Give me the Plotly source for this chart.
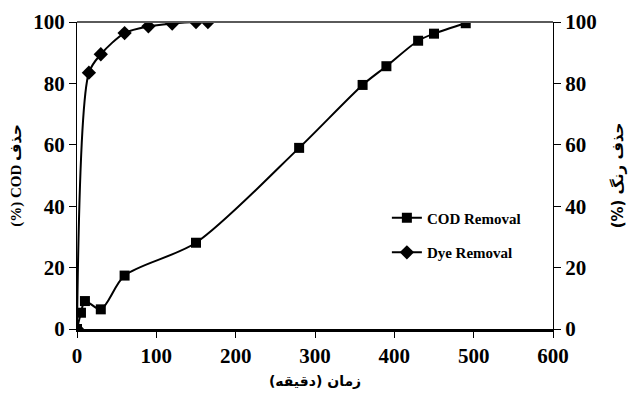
import plotly.graph_objects as go

time_cod = [0, 5, 10, 30, 60, 150, 280, 360, 390, 430, 450, 490]
cod_removal = [0, 5.3, 9.1, 6.4, 17.4, 28.1, 59, 79.5, 85.6, 93.9, 96.2, 99.6]

time_dye = [0, 15, 30, 60, 90, 120, 150, 165]
dye_removal = [0, 83.5, 89.5, 96.4, 98.6, 99.5, 100, 100]

x_ticks = [0, 100, 200, 300, 400, 500, 600]
y_ticks = [0, 20, 40, 60, 80, 100]

FONT = "Liberation Serif"
AFONT = "DejaVu Sans"

fig = go.Figure()
fig.add_trace(go.Scatter(
    x=time_cod, y=cod_removal, name="COD Removal", mode="lines+markers",
    line=dict(color="black", width=2, shape="spline", smoothing=0.8),
    marker=dict(symbol="square", size=10, color="black"),
    legendgroup="a", yaxis="y"))
fig.add_trace(go.Scatter(
    x=time_dye, y=dye_removal, name="Dye Removal", mode="lines+markers",
    line=dict(color="black", width=2, shape="spline", smoothing=0.8),
    marker=dict(symbol="diamond", size=11, color="black"),
    legendgroup="b", yaxis="y2"))

fig.add_shape(type="line", xref="paper", yref="paper", x0=0, x1=1, y0=1, y1=1,
              line=dict(color="#5a5a5a", width=2))

TICKF = dict(size=21, family=FONT, weight=700, color="black")

fig.update_layout(
    width=631, height=403,
    margin=dict(l=77, r=78, t=22, b=74, autoexpand=False),
    paper_bgcolor="white", plot_bgcolor="white",
    font=dict(family=FONT, color="black"),
    showlegend=True,
    legend=dict(x=0.651, y=0.415, xanchor="left", yanchor="top",
                bgcolor="rgba(0,0,0,0)",
                font=dict(size=15, family=FONT, weight=700),
                traceorder="grouped", tracegroupgap=12, itemwidth=30),
    xaxis=dict(range=[0, 600], tickvals=x_ticks, automargin=False,
               ticks="outside", ticklen=6, tickwidth=1, tickcolor="black",
               showline=True, linecolor="black", linewidth=2.5, showgrid=False,
               zeroline=False, tickfont=TICKF,
               title=dict(text="زمان (دقیقه)",
                          font=dict(size=14, family=AFONT, weight=700),
                          standoff=10)),
    yaxis=dict(range=[0, 100], tickvals=y_ticks, automargin=False,
               ticks="outside", ticklen=7,
               tickcolor="black", showline=True, linecolor="black", linewidth=1,
               showgrid=False, zeroline=False, tickfont=TICKF,
               title=dict(text="(%) COD حذف",
                          font=dict(size=15, family="Liberation Serif, DejaVu Sans", weight=700),
                          standoff=8)),
    yaxis2=dict(range=[0, 100], tickvals=y_ticks, automargin=False,
                ticks="outside", ticklen=7,
                tickcolor="black", overlaying="y", side="right",
                showline=True, linecolor="black", linewidth=1,
                showgrid=False, zeroline=False, tickfont=TICKF,
                title=dict(text="(%) حذف رنگ",
                           font=dict(size=15, family=AFONT, weight=700),
                           standoff=16)),
)

fig.write_html("out.html")
